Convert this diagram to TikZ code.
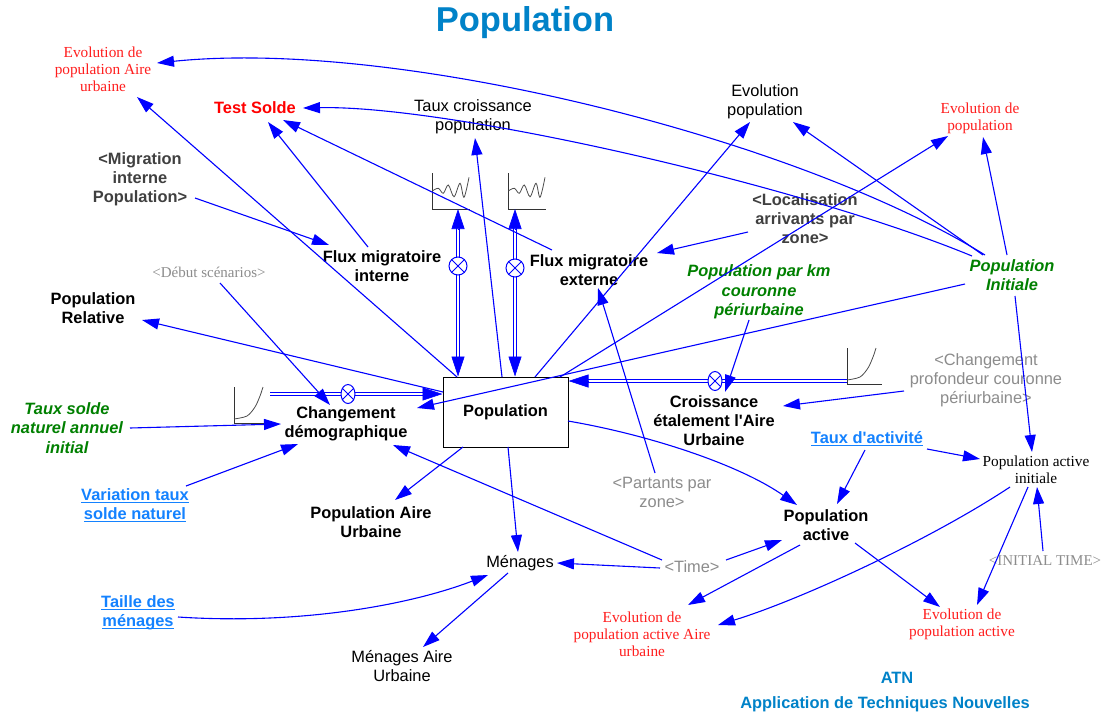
\documentclass[tikz,border=0pt]{standalone}
\usepackage{fontspec}
\setmainfont{Liberation Serif}
\setsansfont{Liberation Sans}
\usetikzlibrary{arrows.meta,calc,shapes.geometric}

\definecolor{linkblue}{RGB}{0,0,255}
\definecolor{titleblue}{RGB}{0,130,200}
\definecolor{ulblue}{RGB}{20,130,255}
\definecolor{dgreen}{RGB}{0,128,0}
\definecolor{shadowgray}{RGB}{140,140,140}
\definecolor{labelgray}{RGB}{64,64,64}
\definecolor{evored}{RGB}{255,30,30}

% underline at a fixed distance under the baseline
\newcommand\undertext[1]{\setbox0\hbox{#1}\rlap{\rule[-2.4pt]{\wd0}{1.1pt}}\box0}

\tikzset{
  base/.style={inner sep=1pt, align=center},
  lbl/.style={base, font=\fontsize{16.4}{19}\selectfont\sffamily},
  blbl/.style={base, font=\fontsize{16.4}{19}\selectfont\sffamily\bfseries},
  gblbl/.style={base, text=dgreen, font=\fontsize{16.4}{19.5}\selectfont\sffamily\bfseries\itshape},
  ublbl/.style={base, text=ulblue, font=\fontsize{16.4}{19}\selectfont\sffamily\bfseries},
  serif/.style={base, font=\fontsize{15.3}{17}\selectfont\rmfamily},
  smallserif/.style={base, font=\fontsize{15}{17}\selectfont\rmfamily},
  link/.style={draw=linkblue, line width=1.1pt, -{Triangle[length=17pt,width=11pt]}},
  pipe/.style={draw=linkblue, line width=1pt, double=white, double distance=2.2pt},
  pipetip/.style={draw=linkblue, fill=linkblue, line width=0.6pt, -{Triangle[length=20pt,width=13pt]}},
  valve/.style={draw=linkblue, fill=white, line width=1pt, inner sep=0pt},
  iconline/.style={draw=black!80, line width=0.9pt},
  lookupicon/.pic={
    \draw[iconline] (0,-36) -- (0,0) -- (38,0);
    \draw[draw=black!70, line width=0.8pt] plot[smooth, tension=0.55] coordinates
      {(0.3,-18) (6.3,-20.7) (11.3,-15.7) (16.3,-24) (22,-12.3) (28,-25.7) (32,-11.7) (37,-31.7)};
  },
  growthicon/.pic={
    \draw[iconline] (0,-36) -- (0,0) -- (35,0);
    \draw[draw=black!70, line width=0.8pt] plot[smooth] coordinates
      {(0,-4) (13,-7) (21,-16) (26,-27) (29,-36)};
  }
}

\begin{document}
\begin{tikzpicture}[x=1pt,y=-1pt]
\fill[white] (0,0) rectangle (1107,715);
\useasboundingbox (0,0) rectangle (1107,715);

% title and credits
\node[base, text=titleblue, font=\fontsize{34.5}{40}\selectfont\sffamily\bfseries] (title) at (525,23) {Population};
\node[blbl, text=titleblue] (atn) at (897,678) {ATN};
\node[blbl, text=titleblue] (atnlong) at (885,704) {Application de Techniques Nouvelles};

% stock
\node[draw, line width=1pt, fill=white, minimum width=125pt, minimum height=70pt, inner sep=0pt,
      font=\fontsize{16.4}{19}\selectfont\sffamily\bfseries] (stock) at (505.5,412) {Population};

% variables
\node[serif, text=evored] (evoAU) at (103,69) {Evolution de\\population Aire\\urbaine};
\node[blbl, text=red] (testsolde) at (255,108) {Test Solde};
\node[blbl, text=labelgray] (migr) at (140,179) {<Migration\\interne\\Population>};
\node[lbl] (tauxcr) at (473,117) {Taux croissance\\population};
\node[lbl] (evopop) at (765,102) {Evolution\\population};
\node[serif, text=evored] (evodep) at (980,118) {Evolution de\\population};
\node[blbl] (fmi) at (382,266) {Flux migratoire\\interne};
\node[blbl] (fme) at (589,270) {Flux migratoire\\externe};
\node[blbl, text=labelgray] (loc) at (805,219) {<Localisation\\arrivants par\\zone>};
\node[gblbl] (popinit) at (1012,275) {Population\\Initiale};
\node[gblbl] (pkm) at (759,292) {Population par km\\couronne\\périurbaine};
\node[smallserif, text=shadowgray] (debut) at (209,272) {<Début scénarios>};
\node[blbl] (poprel) at (93,308) {Population\\Relative};
\node[blbl] (chdem) at (346,424) {Changement\\démographique};
\node[gblbl] (tsn) at (67,428) {Taux solde\\naturel annuel\\initial};
\node[ublbl] (vtsn) at (135,505) {\undertext{Variation taux}\\\undertext{solde naturel}};
\node[blbl] (popau) at (371,522) {Population Aire\\Urbaine};
\node[blbl] (croiss) at (714,421) {Croissance\\étalement l\textquotesingle Aire\\Urbaine};
\node[lbl, text=shadowgray] (chprof) at (986,380) {<Changement\\profondeur couronne\\périurbaine>};
\node[ublbl] (tauxact) at (867,439) {\undertext{Taux d\textquotesingle activité}};
\node[serif] (pai) at (1036,470) {Population active\\initiale};
\node[lbl, text=shadowgray] (partants) at (662,492) {<Partants par\\zone>};
\node[blbl] (popact) at (826,525) {Population\\active};
\node[lbl] (menages) at (520,563) {Ménages};
\node[lbl, text=shadowgray] (time) at (692,567) {<Time>};
\node[smallserif, text=shadowgray] (inittime) at (1045,561) {<INITIAL TIME>};
\node[serif, text=evored] (evopaau) at (642,634) {Evolution de\\population active Aire\\urbaine};
\node[serif, text=evored] (evopa) at (962,624) {Evolution de\\population active};
\node[lbl] (menau) at (402,666) {Ménages Aire\\Urbaine};
\node[ublbl] (taille) at (138,613) {\undertext{Taille des}\\\undertext{ménages}};

% graph icons at the free ends of the flows
\pic at (432,209) {lookupicon};
\pic at (508,209) {lookupicon};
\pic at (234,423) {growthicon};
\pic at (847,384) {growthicon};
\coordinate (lk1) at (458,209);
\coordinate (lk2) at (515,209);
\coordinate (src1) at (270,394);
\coordinate (src2) at (847,381);

% flow pipes
\draw[pipe] ($(lk1)+(0,18)$) -- ($(stock.north)+(-47.5,-18)$);
\draw[pipetip] ($(lk1)+(0,20)$) -- (lk1);
\draw[pipetip] ($(stock.north)+(-47.5,-20)$) -- ($(stock.north)+(-47.5,0)$);
\draw[pipe] ($(lk2)+(0,18)$) -- ($(stock.north)+(9.5,-18)$);
\draw[pipetip] ($(lk2)+(0,20)$) -- (lk2);
\draw[pipetip] ($(stock.north)+(9.5,-20)$) -- ($(stock.north)+(9.5,0)$);
\draw[pipe] (src1) -- ($(stock.west)+(-18,-18)$);
\draw[pipetip] ($(stock.west)+(-20,-18)$) -- ($(stock.west)+(0,-18)$);
\draw[pipe] (src2) -- ($(stock.east)+(18,-31)$);
\draw[pipetip] ($(stock.east)+(20,-31)$) -- ($(stock.east)+(0,-31)$);

% valves
\node[valve, circle, minimum size=18pt] (v1) at (458,266) {};
\node[valve, circle, minimum size=18pt] (v2) at (515,268) {};
\node[valve, ellipse, minimum width=14pt, minimum height=19pt] (v3) at (348,394) {};
\node[valve, ellipse, minimum width=14pt, minimum height=19pt] (v4) at (715,381) {};
\foreach \v in {v1,v2,v3,v4}
  \draw[linkblue, line width=0.9pt] (\v.45) -- (\v.225) (\v.135) -- (\v.315);

% influence links
\draw[link] ($(popinit)+(-27,-20)$) .. controls (800,140) and (400,38) .. ($(evoAU)+(54,-6)$);
\draw[link] ($(popinit)+(-40,-19)$) .. controls (800,185) and (450,105) .. ($(testsolde)+(48,0)$);
\draw[link] ($(fmi)+(-14,-19)$) -- ($(testsolde)+(13,14)$);
\draw[link] ($(fme)+(-37,-20)$) -- ($(testsolde)+(28,12)$);
\draw[link] ($(stock)+(-48.5,-35)$) -- ($(evoAU)+(34,28)$);
\draw[link] ($(migr)+(55,19)$) -- ($(fmi)+(-53,-21)$);
\draw[link] ($(stock)+(-62.5,-20)$) -- ($(poprel)+(49,12)$);
\draw[link] ($(debut)+(11,11)$) -- ($(chdem)+(-16,-19)$);
\draw[link] ($(tsn)+(63,0)$) -- ($(chdem)+(-65,0)$);
\draw[link] ($(vtsn)+(51,-19)$) -- ($(chdem)+(-48,20)$);
\draw[link] ($(popinit)+(-47,9)$) -- ($(chdem)+(71,-16)$);
\draw[link] ($(time)+(-30,-7)$) -- ($(chdem)+(47,21)$);
\draw[link] ($(stock)+(-42.5,35)$) -- ($(popau)+(24,-22)$);
\draw[link] ($(stock)+(2.5,35)$) -- ($(menages)+(-2,-11)$);
\draw[link] ($(stock)+(62.5,9)$) .. controls (650,435) and (740,465) .. ($(popact)+(-29,-20)$);
\draw[link] ($(stock)+(29.5,-35)$) -- ($(evopop)+(-15,20)$);
\draw[link] ($(stock)+(54.5,-35)$) -- ($(evodep)+(-32,18)$);
\draw[link] ($(stock)+(-3.5,-35)$) -- ($(tauxcr)+(2,21)$);
\draw[link] ($(popinit)+(-29,-20)$) -- ($(evopop)+(28,20)$);
\draw[link] ($(popinit)+(-5,-20)$) -- ($(evodep)+(3,19)$);
\draw[link] ($(popinit)+(3,21)$) -- ($(pai)+(-4,-18)$);
\draw[link] ($(loc)+(-57,13)$) -- ($(fme)+(68,-17)$);
\draw[link] ($(partants)+(-7,-19)$) -- ($(fme)+(9,18)$);
\draw[link] ($(pkm)+(-10,28)$) -- ($(v4)+(10,11)$);
\draw[link] ($(chprof)+(-82,11)$) -- ($(croiss)+(69,-15)$);
\draw[link] ($(tauxact)+(60,10)$) -- ($(pai)+(-56,-11)$);
\draw[link] ($(tauxact)+(-2,11)$) -- ($(popact)+(11,-21)$);
\draw[link] ($(inittime)+(-2,-10)$) -- ($(pai)+(1,17)$);
\draw[link] ($(pai)+(-8,17)$) -- ($(evopa)+(15,-19)$);
\draw[link] ($(pai)+(-26,17)$) .. controls (930,540) and (800,600) .. ($(evopaau)+(76,-9)$);
\draw[link] ($(popact)+(29,18)$) -- ($(evopa)+(-22,-17)$);
\draw[link] ($(popact)+(-26,20)$) -- ($(evopaau)+(46,-29)$);
\draw[link] ($(time)+(34,-7)$) -- ($(popact)+(-44,15)$);
\draw[link] ($(time)+(-32,1)$) -- ($(menages)+(37,0)$);
\draw[link] ($(taille)+(40,4)$) .. controls (300,625) and (410,605) .. ($(menages)+(-32,12)$);
\draw[link] ($(menages)+(-12,10)$) -- ($(menau)+(21,-19)$);
\end{tikzpicture}
\end{document}
